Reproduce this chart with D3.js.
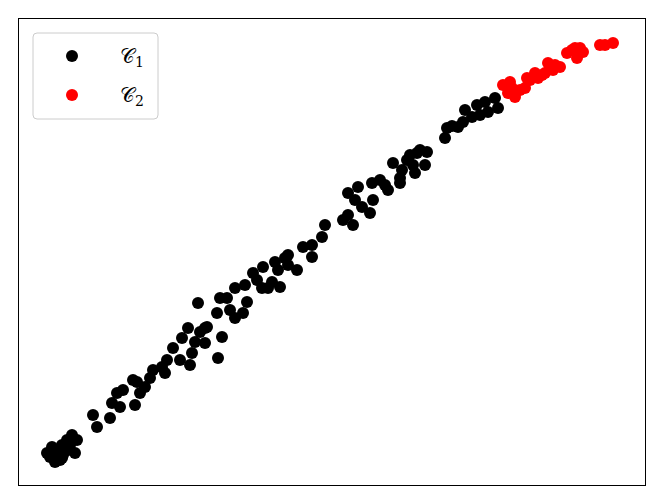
<!DOCTYPE html>
<html><head><meta charset="utf-8">
<script src="https://cdn.jsdelivr.net/npm/d3@7"></script>
<style>body{margin:0;background:#fff}</style>
</head><body>
<script>
const seriesNames = ["C1", "C2"];
const legendLabels = ["\u{1D49E}", "\u{1D49E}"];
const legendSubs = ["1", "2"];
const c1x = [0.285,0.335,0.365,0.415,0.435,0.445,0.495,0.535,0.585,0.565,0.485,0.315,0.385,0.435,0.515,
0.785,0.745,0.915,0.935,1.015,0.985,1.045,1.165,1.185,1.265,1.315,1.345,1.435,1.215,1.145,
1.465,1.485,1.545,1.615,1.635,1.695,1.715,1.735,1.765,1.815,1.865,1.865,1.995,2.035,1.795,1.985,2.015,2.085,2.115,2.165,2.165,2.245,2.285,2.265,2.345,1.885,
2.385,2.435,2.445,2.495,2.535,2.615,2.565,2.595,2.665,2.695,2.695,2.785,2.845,2.935,2.935,3.035,3.065,
3.245,3.295,3.345,3.295,3.395,3.365,3.435,3.515,3.545,3.535,3.615,3.665,3.695,3.815,3.815,3.745,3.835,3.885,3.915,3.985,4.015,4.085,4.065,3.965,3.945,4.285,4.265,
4.335,4.395,4.445,4.465,4.535,4.585,4.615,4.665,4.695,4.765,4.795];
const c1y = [0.325,0.385,0.235,0.255,0.275,0.305,0.355,0.505,0.455,0.325,0.455,0.285,0.335,0.405,0.405,
0.585,0.705,0.675,0.825,0.785,0.925,0.955,0.805,1.035,0.985,1.075,1.155,1.185,0.925,1.055,
1.125,1.255,1.375,1.255,1.475,1.575,1.205,1.325,1.435,1.535,1.575,1.425,1.275,1.485,1.825,1.725,1.875,1.875,1.755,1.975,1.675,1.725,1.835,2.005,2.125,1.585,
2.055,1.975,2.185,1.975,2.035,1.985,2.235,2.155,2.275,2.305,2.205,2.155,2.385,2.405,2.285,2.485,2.605,
2.655,2.705,2.605,2.925,2.985,2.855,2.785,2.725,2.855,3.025,3.055,3.005,2.955,3.025,3.075,3.225,3.155,3.255,3.305,3.325,3.355,3.335,3.205,3.125,3.205,3.575,3.475,
3.595,3.585,3.635,3.755,3.685,3.805,3.705,3.835,3.735,3.875,3.775];
const c2x = [4.845,4.895,4.915,4.965,5.015,5.065,5.085,5.165,5.195,5.235,5.265,5.295,5.345,5.365,5.415,5.485,5.535,5.565,5.585,5.615,5.645,5.815,5.865,5.945,4.935,5.115];
const c2y = [4.005,3.925,4.035,3.885,3.955,3.975,4.075,4.125,4.075,4.105,4.125,4.225,4.155,4.205,4.185,4.325,4.355,4.375,4.275,4.375,4.335,4.405,4.405,4.425,3.975,4.055];

const W = 664, H = 504;
const svg = d3.select("body").append("svg").attr("width", W).attr("height", H);
const x = d3.scaleLinear().domain([0, 6.27]).range([18.5, 645.5]);
const y = d3.scaleLinear().domain([0, 4.67]).range([485.5, 18.5]);

const colors = ["#000000", "#ff0000"];
const series = [d3.zip(c1x, c1y), d3.zip(c2x, c2y)];
series.forEach((pts, i) => {
  svg.append("g").selectAll("circle").data(pts).join("circle")
    .attr("cx", d => x(d[0])).attr("cy", d => y(d[1])).attr("r", 6)
    .attr("fill", colors[i]);
});

svg.append("rect").attr("x", 18.5).attr("y", 18.5).attr("width", 627).attr("height", 467)
  .attr("fill", "none").attr("stroke", "#000").attr("stroke-width", 1);

const lg = svg.append("g");
lg.append("rect").attr("x", 33).attr("y", 33).attr("width", 125).attr("height", 86)
  .attr("rx", 4).attr("fill", "#fff").attr("fill-opacity", 0.8)
  .attr("stroke", "#cccccc").attr("stroke-width", 1);
seriesNames.forEach((n, i) => {
  const cy = 56 + i * 39;
  lg.append("circle").attr("cx", 72).attr("cy", cy).attr("r", 6).attr("fill", colors[i]);
  const t = lg.append("text").attr("x", 120).attr("y", cy + 7)
    .attr("font-family", "'DejaVu Sans', sans-serif").attr("font-size", 20).attr("fill", "#000");
  t.append("tspan").text(legendLabels[i]);
  t.append("tspan").attr("font-family", "'DejaVu Serif', serif").attr("font-size", 14).attr("dy", 4).text(legendSubs[i]);
});
</script>
</body></html>
